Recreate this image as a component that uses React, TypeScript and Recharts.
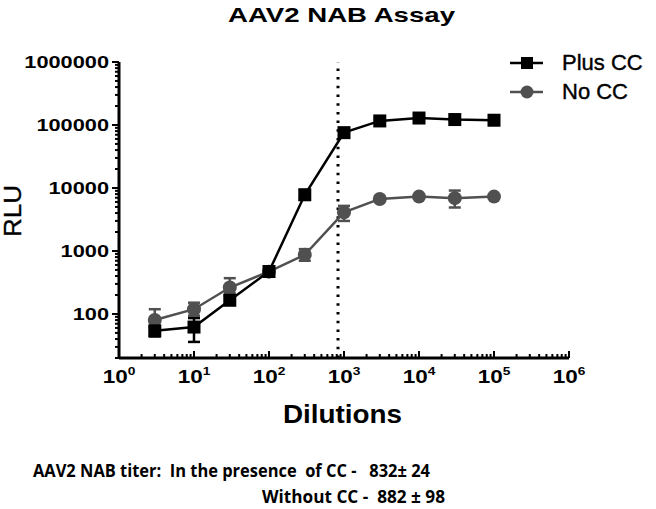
import React from 'react';
import { LineChart, Line, XAxis, YAxis, ErrorBar, ReferenceLine, Legend } from 'recharts';

// dilution points (half-log steps)
const dilutions = [3, 10, 30, 100, 300, 1000, 3000, 10000, 30000, 100000];

// RLU with cell control
const plusCC = [54, 62, 165, 472, 7800, 75600, 116000, 129000, 122000, 119000];
const plusCCErr = [[10, 8], [26, 24], [25, 30], [40, 40], [1300, 1500], [5000, 6000], [6000, 6000], [7000, 7000], [6000, 6000], [6000, 6000]];

// RLU without cell control
const noCC = [80, 119, 263, 470, 870, 4100, 6700, 7300, 6900, 7300];
const noCCErr = [[20, 39], [25, 32], [50, 107], [40, 40], [170, 200], [1100, 1100], [300, 300], [300, 300], [2000, 2200], [300, 300]];

const titerPlusCC = 832;

const xMajor = [1, 10, 100, 1000, 10000, 100000, 1000000];
const xExponents = ['0', '1', '2', '3', '4', '5', '6'];
const yMajor = [100, 1000, 10000, 100000, 1000000];
const yLabels = ['100', '1000', '10000', '100000', '1000000'];
const minorSteps = [2, 3, 4, 5, 6, 7, 8, 9];

const xTicks = xMajor.flatMap((m, i) => (i < xMajor.length - 1 ? [m, ...minorSteps.map((s) => s * m)] : [m]));
const yTicks = [10, ...yMajor].flatMap((m, i) =>
  i === 0 ? minorSteps.map((s) => s * m) : i < yMajor.length ? [m, ...minorSteps.map((s) => s * m)] : [m]
);

const data = dilutions.map((d, i) => ({
  dilution: d,
  plus: plusCC[i],
  plusErr: plusCCErr[i],
  no: noCC[i],
  noErr: noCCErr[i],
}));

const legendItems = [
  { label: 'Plus CC', color: '#000000', shape: 'square' },
  { label: 'No CC', color: '#505050', shape: 'circle' },
];

const FONT = 'Liberation Sans, Arial, sans-serif';
const NOTE_FONT = 'Open Sans, Lato, sans-serif';

const XTick = (props: any) => {
  const { x, y, payload } = props;
  const idx = xMajor.indexOf(payload.value);
  const major = idx >= 0;
  return (
    <g>
      <line x1={x} x2={x} y1={y} y2={y - (major ? 7 : 4)} stroke="#000" strokeWidth={2} />
      {major && (
        <g transform={`translate(${x},${y + 25}) scale(1.25,1)`}>
          <text textAnchor="middle" fontFamily={FONT} fontWeight="bold" fontSize={18} fill="#000">
            10
            <tspan dy={-8} fontSize={11}>
              {xExponents[idx]}
            </tspan>
          </text>
        </g>
      )}
    </g>
  );
};

const YTick = (props: any) => {
  const { x, y, payload } = props;
  const idx = yMajor.indexOf(payload.value);
  const major = idx >= 0;
  return (
    <g>
      <line x1={x - (major ? 7 : 4)} x2={x} y1={y} y2={y} stroke="#000" strokeWidth={2} />
      {major && (
        <g transform={`translate(${x - 10},${y + 6}) scale(1.28,1)`}>
          <text textAnchor="end" fontFamily={FONT} fontWeight="bold" fontSize={17} fill="#000">
            {yLabels[idx]}
          </text>
        </g>
      )}
    </g>
  );
};

const LegendBox = () => (
  <svg width={150} height={60} style={{ display: 'block' }}>
    {legendItems.map((it, i) => {
      const cy = 17 + i * 29;
      return (
        <g key={it.label}>
          <line x1={5} x2={38} y1={cy} y2={cy} stroke={it.color} strokeWidth={2.5} />
          {it.shape === 'square' ? (
            <rect x={16} y={cy - 6} width={12} height={12} fill={it.color} />
          ) : (
            <circle cx={22} cy={cy} r={6.5} fill={it.color} />
          )}
          <text x={57} y={cy + 7} fontFamily={FONT} fontSize={22} fill="#000" stroke="#000" strokeWidth={0.4}>
            {it.label}
          </text>
        </g>
      );
    })}
  </svg>
);

const Square = (props: any) => {
  const { cx, cy } = props;
  if (cx == null || cy == null) return null;
  return <rect x={cx - 6.5} y={cy - 6.5} width={13} height={13} fill="#000" />;
};

const Circle = (props: any) => {
  const { cx, cy } = props;
  if (cx == null || cy == null) return null;
  return <circle cx={cx} cy={cy} r={7} fill="#505050" />;
};

export default function App() {
  return (
    <div style={{ position: 'absolute', left: 0, top: 0, width: 656, height: 509, background: '#fff' }}>
      <LineChart width={656} height={509} data={data} margin={{ top: 62, right: 87, left: 0, bottom: 0 }}>
        <XAxis
          dataKey="dilution"
          type="number"
          scale="log"
          domain={[1, 1000000]}
          allowDataOverflow
          ticks={xTicks}
          interval={0}
          height={151}
          tickSize={0}
          tickMargin={0}
          tickLine={false}
          tick={<XTick />}
          axisLine={{ stroke: '#000', strokeWidth: 3 }}
        />
        <YAxis
          type="number"
          scale="log"
          domain={[20, 1000000]}
          allowDataOverflow
          ticks={yTicks}
          interval={0}
          width={119}
          tickSize={0}
          tickMargin={0}
          tickLine={false}
          tick={<YTick />}
          axisLine={{ stroke: '#000', strokeWidth: 3 }}
        />
        <ReferenceLine
          x={titerPlusCC}
          stroke="#000"
          strokeWidth={3}
          strokeDasharray="2.5 6.2"
        />
        <Line
          dataKey="no"
          stroke="#505050"
          strokeWidth={2.5}
          dot={<Circle />}
          isAnimationActive={false}
        >
          <ErrorBar dataKey="noErr" direction="y" width={6} stroke="#505050" strokeWidth={2.5} />
        </Line>
        <Line
          dataKey="plus"
          stroke="#000"
          strokeWidth={2.5}
          dot={<Square />}
          isAnimationActive={false}
        >
          <ErrorBar dataKey="plusErr" direction="y" width={6} stroke="#000" strokeWidth={2.5} />
        </Line>
        <Legend
          layout="horizontal"
          verticalAlign="middle"
          align="center"
          wrapperStyle={{ position: 'absolute', top: 46, left: 505, width: 150, height: 60 }}
          content={() => <LegendBox />}
        />
      </LineChart>
      <svg
        width={656}
        height={509}
        style={{ position: 'absolute', left: 0, top: 0, pointerEvents: 'none' }}
      >
        <text x={228} y={22} textLength={227} lengthAdjust="spacingAndGlyphs" fontFamily={FONT} fontWeight="bold" fontSize={21} fill="#000">
          AAV2 NAB Assay
        </text>
        <text x={283} y={423} textLength={119} lengthAdjust="spacingAndGlyphs" fontFamily={FONT} fontWeight="bold" fontSize={25} fill="#000">
          Dilutions
        </text>
        <text transform="translate(21,211) rotate(-90)" textAnchor="middle" textLength={52} lengthAdjust="spacingAndGlyphs" fontFamily={FONT} fontSize={23} fill="#000" stroke="#000" strokeWidth={0.4}>
          RLU
        </text>
        <text x={33} y={477} textLength={397} lengthAdjust="spacingAndGlyphs" fontFamily={NOTE_FONT} fontWeight={700} fontSize={18} fill="#000" style={{ whiteSpace: 'pre' }}>
          {'AAV2 NAB titer:  In the presence  of CC -   832\u00b1 24'}
        </text>
        <text x={262} y={503} textLength={183} lengthAdjust="spacingAndGlyphs" fontFamily={NOTE_FONT} fontWeight={700} fontSize={18} fill="#000" style={{ whiteSpace: 'pre' }}>
          {'Without CC -  882 \u00b1 98'}
        </text>
      </svg>
    </div>
  );
}
